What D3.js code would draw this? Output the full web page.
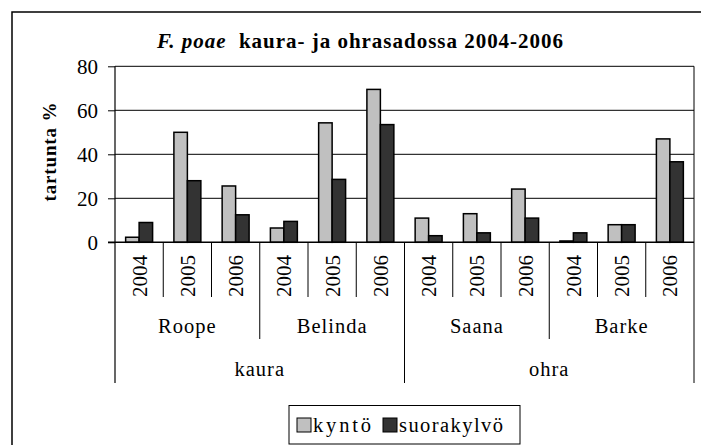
<!DOCTYPE html>
<html><head><meta charset="utf-8">
<script src="https://cdn.jsdelivr.net/npm/d3@7"></script>
<style>
html,body{margin:0;padding:0;background:#fff;}
svg{display:block;}
svg text{font-family:"Liberation Serif","Times New Roman",Times,serif;}
</style></head>
<body><svg id="c" width="701" height="445"></svg>
<script>
const crops = ["kaura", "ohra"];
const varieties = ["Roope", "Belinda", "Saana", "Barke"];
const years = ["2004", "2005", "2006"];
const seriesNames = ["kyntö", "suorakylvö"];
const kynto = [2.3, 50, 25.6, 6.5, 54.3, 69.5, 11, 13, 24.2, 0.6, 8, 47];
const suorakylvo = [9, 28, 12.5, 9.5, 28.6, 53.5, 3, 4.3, 11, 4.3, 8, 36.6];
const yTicks = [0, 20, 40, 60, 80];
const colors = ["#c0c0c0", "#333333"];

const svg = d3.select("#c");
const L = 115, R = 694, T = 66.3, B = 242.3;
const FF = "Liberation Serif";

svg.append("rect").attr("x", 12).attr("y", 12).attr("width", 700).attr("height", 450)
  .attr("fill", "none").attr("stroke", "#000").attr("stroke-width", 1.5);

const cats = [];
varieties.forEach(v => years.forEach(y => cats.push(v + "|" + y)));
const x = d3.scaleBand().domain(cats).range([L, R]).padding(0);
const xs = d3.scaleBand().domain(seriesNames).range([0, x.bandwidth()]).paddingInner(0).paddingOuter(0.79);
const y = d3.scaleLinear().domain([0, 80]).range([B, T]);

svg.append("g").selectAll("line").data(yTicks.filter(d => d > 0)).join("line")
  .attr("x1", L).attr("x2", R).attr("y1", d => y(d)).attr("y2", d => y(d))
  .attr("stroke", "#000").attr("stroke-width", 1);
svg.append("line").attr("x1", R).attr("x2", R).attr("y1", T).attr("y2", 383)
  .attr("stroke", "#000").attr("stroke-width", 1);

const yAxis = d3.axisLeft(y).tickValues(yTicks).tickSize(7).tickPadding(10);
const gy = svg.append("g").attr("transform", `translate(${L},0)`).call(yAxis);
gy.attr("font-family", FF).attr("font-size", 21);
gy.select(".domain").remove();
gy.selectAll(".tick line").attr("stroke", "#000");
gy.selectAll(".tick text").attr("fill", "#000");
svg.append("line").attr("x1", L).attr("x2", L).attr("y1", T).attr("y2", 383)
  .attr("stroke", "#000").attr("stroke-width", 1.2);

const data = cats.map((c, i) => ({c, vals: [kynto[i], suorakylvo[i]]}));
const gb = svg.append("g");
data.forEach(d => {
  d.vals.forEach((v, j) => {
    gb.append("rect")
      .attr("x", x(d.c) + xs(seriesNames[j]))
      .attr("y", y(v))
      .attr("width", xs.bandwidth())
      .attr("height", y(0) - y(v))
      .attr("fill", colors[j]).attr("stroke", "#000").attr("stroke-width", 1.5);
  });
});

svg.append("line").attr("x1", L - 7).attr("x2", R).attr("y1", B).attr("y2", B)
  .attr("stroke", "#000").attr("stroke-width", 1.5);

cats.forEach((c, i) => {
  if (i === 0) return;
  let bottom = 297;
  if (i % 3 === 0) bottom = 339;
  if (i % 6 === 0) bottom = 383;
  svg.append("line").attr("x1", x(c)).attr("x2", x(c)).attr("y1", B).attr("y2", bottom)
    .attr("stroke", "#000").attr("stroke-width", 1);
});

cats.forEach(c => {
  const cx = x(c) + x.bandwidth() / 2;
  svg.append("text").attr("transform", `translate(${cx + 7.5},297) rotate(-90)`)
    .attr("font-family", FF).attr("font-size", 21).attr("fill", "#000")
    .attr("textLength", 42).attr("lengthAdjust", "spacing")
    .text(c.split("|")[1]);
});
varieties.forEach((v, i) => {
  const x0 = x(v + "|" + years[0]), x1 = x(v + "|" + years[2]) + x.bandwidth();
  svg.append("text").attr("x", (x0 + x1) / 2).attr("y", 333).attr("text-anchor", "middle")
    .attr("font-family", FF).attr("font-size", 20.5).attr("letter-spacing", 1).attr("fill", "#000").text(v);
});
crops.forEach((cr, i) => {
  const x0 = x(varieties[i * 2] + "|" + years[0]);
  const x1 = x(varieties[i * 2 + 1] + "|" + years[2]) + x.bandwidth();
  svg.append("text").attr("x", (x0 + x1) / 2).attr("y", 376).attr("text-anchor", "middle")
    .attr("font-family", FF).attr("font-size", 20.5).attr("letter-spacing", 1).attr("fill", "#000").text(cr);
});

const title = svg.append("text").attr("x", 157).attr("y", 48)
  .attr("font-family", FF).attr("font-size", 21).attr("font-weight", "bold").attr("fill", "#000")
  .attr("textLength", 406).attr("lengthAdjust", "spacing");
title.append("tspan").attr("font-style", "italic").text("F. poae");
title.append("tspan").text("\u00a0 kaura- ja ohrasadossa 2004-2006");

svg.append("text").attr("transform", "translate(56,152) rotate(-90)")
  .attr("text-anchor", "middle").attr("font-family", FF).attr("font-size", 19).attr("font-weight", "bold")
  .attr("textLength", 99).attr("lengthAdjust", "spacing").attr("fill", "#000").text("tartunta %");

svg.append("rect").attr("x", 289).attr("y", 405.5).attr("width", 231).attr("height", 38.5)
  .attr("fill", "#fff").attr("stroke", "#000").attr("stroke-width", 1);
const legX = [297, 383];
const legLen = [58, 104];
seriesNames.forEach((s, j) => {
  svg.append("rect").attr("x", legX[j]).attr("y", 418).attr("width", 14).attr("height", 14)
    .attr("fill", colors[j]).attr("stroke", "#000").attr("stroke-width", 1);
  svg.append("text").attr("x", legX[j] + 16).attr("y", 432).attr("font-family", FF).attr("font-size", 20.5)
    .attr("textLength", legLen[j]).attr("lengthAdjust", "spacing")
    .attr("fill", "#000").text(s);
});
</script></body></html>
